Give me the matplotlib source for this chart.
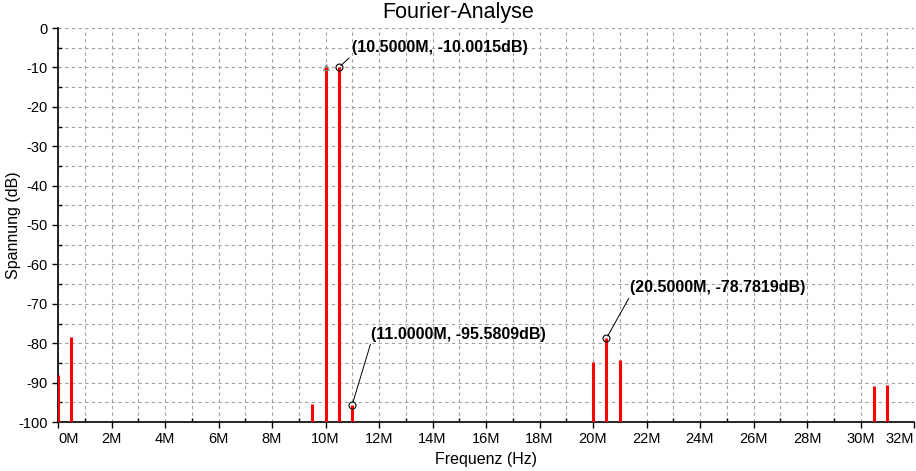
import matplotlib
matplotlib.use("Agg")
import matplotlib.pyplot as plt
from matplotlib.ticker import MultipleLocator

plt.rcParams['font.family'] = ['Liberation Sans', 'DejaVu Sans']
plt.rcParams['axes.unicode_minus'] = False

# data (frequency in MHz, level in dB)
freqs_mhz = [0.0, 0.5, 9.5, 10.0, 10.5, 11.0, 20.0, 20.5, 21.0, 30.5, 31.0]
levels_db = [-88.1, -78.4, -95.5, -10.0, -10.0015, -95.5809, -84.7, -78.7819, -84.2, -90.8, -90.5]

x_ticks = [0, 2, 4, 6, 8, 10, 12, 14, 16, 18, 20, 22, 24, 26, 28, 30, 32]
x_tick_labels = [f"{v}M" for v in x_ticks]
y_ticks = [0, -10, -20, -30, -40, -50, -60, -70, -80, -90, -100]

annot_points = [(10.5, -10.0015), (11.0, -95.5809), (20.5, -78.7819)]
annot_texts = ["(10.5000M, -10.0015dB)", "(11.0000M, -95.5809dB)", "(20.5000M, -78.7819dB)"]
annot_offsets = [(13, 12), (19, 63), (24, 43)]  # pixels

fig = plt.figure(figsize=(9.16, 4.71), dpi=100)
ax = fig.add_axes([58/916, 1-422/471, (914-58)/916, (422-28)/471])

ax.vlines(freqs_mhz, -100, levels_db, colors="#ff0000", linewidth=2.2, zorder=3)

# marker triangle at 10M
ax.plot([freqs_mhz[3]], [levels_db[3]], marker="^", markersize=5, mfc="none",
        mec="#888888", mew=0.8, zorder=4, clip_on=False)

for (px, py), txt, (dx, dy) in zip(annot_points, annot_texts, annot_offsets):
    ax.plot([px], [py], marker="o", markersize=5, mfc="none", mec="black", mew=0.8, zorder=5)
    ax.annotate(txt, xy=(px, py), xytext=(dx, dy), textcoords="offset pixels",
                fontsize=11.5, fontweight="bold", ha="left", va="bottom",
                arrowprops=dict(arrowstyle="-", color="black", lw=0.7,
                                shrinkA=0, shrinkB=2, relpos=(0, 0)))

ax.set_xlim(0, 32)
ax.set_ylim(-100, 0)
ax.set_xticks(x_ticks)
ax.set_xticklabels(x_tick_labels)
ax.set_yticks(y_ticks)
ax.xaxis.set_minor_locator(MultipleLocator(1))
ax.yaxis.set_minor_locator(MultipleLocator(5))

ax.grid(True, which="both", linestyle=(0, (3, 3)), color="#a0a0a0", linewidth=0.8)
ax.set_axisbelow(True)

for s in ["top", "right"]:
    ax.spines[s].set_visible(False)
for s in ["left", "bottom"]:
    ax.spines[s].set_linewidth(1.2)

ax.tick_params(axis="both", which="major", direction="out", length=4, labelsize=10.5, width=1)
ax.tick_params(axis="both", which="minor", direction="in", length=3, width=1)

labels = ax.get_xticklabels()
labels[0].set_horizontalalignment("left")
labels[-1].set_horizontalalignment("right")

fig.suptitle("Fourier-Analyse", fontsize=15.5, x=0.5, y=0.995, va="top")
ax.set_xlabel("Frequenz (Hz)", fontsize=11.5, labelpad=4)
ax.set_ylabel("Spannung (dB)", fontsize=11.5)
ax.yaxis.set_label_coords((21-58)/856, 0.5)

fig.savefig("out.png", dpi=100, facecolor="white")
